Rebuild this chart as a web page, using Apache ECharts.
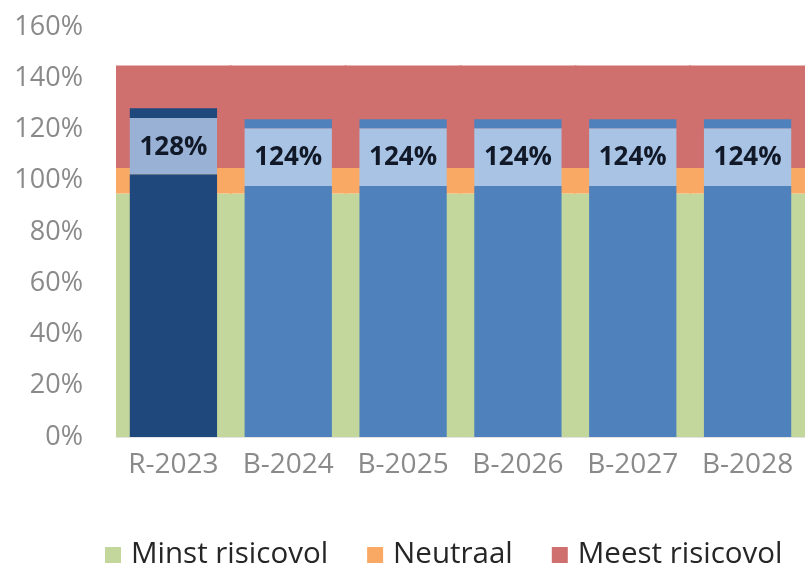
<!DOCTYPE html>
<html>
<head>
<meta charset="utf-8">
<script src="https://cdn.jsdelivr.net/npm/echarts@6/dist/echarts.min.js"></script>
<style>
html,body{margin:0;padding:0;background:#fff;}
#chart{width:805px;height:565px;}
</style>
</head>
<body>
<div id="chart"></div>
<script>
// ---- data ----
const categories = ['R-2023', 'B-2024', 'B-2025', 'B-2026', 'B-2027', 'B-2028'];
// background risk bands (stacked, %)
const bandMinst = [95, 95, 95, 95, 95, 95];
const bandNeutraal = [10, 10, 10, 10, 10, 10];
const bandMeest = [40, 40, 40, 40, 40, 40];
// coverage bars, stacked in three segments (%)
const barBase = [102.5, 98, 98, 98, 98, 98];
const barMiddle = [22, 22.5, 22.5, 22.5, 22.5, 22.5];
const barCap = [3.8, 3.5, 3.5, 3.5, 3.5, 3.5];
const totalLabels = ['128%', '124%', '124%', '124%', '124%', '124%'];
const yTicks = { min: 0, max: 160, interval: 20 };

// ---- styles ----
const FONT = 'Open Sans';
const C = {
  green: '#c3d69b', orange: '#f9a963', red: '#d0706e',
  actualDark: '#1f497d', actualLight: '#98b1d4',
  budgetDark: '#4f81bd', budgetLight: '#a8c3e4'
};
const isActual = c => c.charAt(0) === 'R';

const chart = echarts.init(document.getElementById('chart'), null, { renderer: 'canvas' });

function coloured(values, darkKey) {
  return values.map((v, i) => ({
    value: v,
    itemStyle: { color: isActual(categories[i]) ? C['actual' + darkKey] : C['budget' + darkKey] }
  }));
}
function band(name, values, color) {
  return { name: name, type: 'bar', stack: 'band', xAxisIndex: 0, barWidth: 117,
    data: values, itemStyle: { color: color } };
}

chart.setOption({
  animation: false,
  backgroundColor: '#fff',
  grid: { left: 116, top: 27, width: 692, height: 410 },
  legend: {
    data: ['Minst risicovol', 'Neutraal', 'Meest risicovol'],
    left: 100, top: 535,
    icon: 'rect', itemWidth: 16, itemHeight: 16, itemGap: 39,
    textStyle: { fontFamily: FONT, fontSize: 29.5, color: '#262626', padding: [0, 0, 0, 5] }
  },
  xAxis: [
    {
      type: 'category', data: categories,
      axisLine: { show: true, lineStyle: { color: '#e3e3e3' } },
      axisTick: { show: false },
      axisLabel: { interval: 0, fontFamily: FONT, fontSize: 28, color: '#8a8a8a', margin: 14 }
    },
    {
      type: 'category', data: categories, show: false
    }
  ],
  yAxis: {
    type: 'value', min: yTicks.min, max: yTicks.max, interval: yTicks.interval,
    axisLine: { show: false }, axisTick: { show: false }, splitLine: { show: false },
    axisLabel: { formatter: '{value}%', fontFamily: FONT, fontSize: 27, color: '#8a8a8a', margin: 33 }
  },
  series: [
    band('Minst risicovol', bandMinst, C.green),
    band('Neutraal', bandNeutraal, C.orange),
    band('Meest risicovol', bandMeest, C.red),
    { name: 'base', type: 'bar', stack: 'cov', xAxisIndex: 1, barWidth: '76%',
      data: coloured(barBase, 'Dark') },
    { name: 'middle', type: 'bar', stack: 'cov', xAxisIndex: 1, barWidth: '76%',
      data: coloured(barMiddle, 'Light'),
      label: { show: true, position: 'inside', offset: [0, 1], formatter: p => totalLabels[p.dataIndex],
        fontFamily: FONT, fontWeight: 'bold', fontSize: 26, color: '#111827' } },
    { name: 'cap', type: 'bar', stack: 'cov', xAxisIndex: 1, barWidth: '76%',
      data: coloured(barCap, 'Dark') }
  ]
});
</script>
</body>
</html>
